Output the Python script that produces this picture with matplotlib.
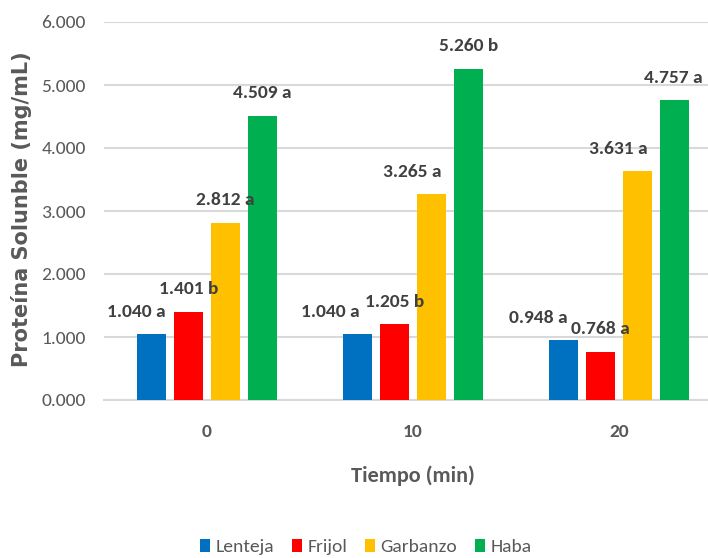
import matplotlib
matplotlib.use("Agg")
import matplotlib.pyplot as plt
import numpy as np

# ---- data ----
categories = ["0", "10", "20"]
series_names = ["Lenteja", "Frijol", "Garbanzo", "Haba"]
lenteja = [1.040, 1.040, 0.948]
frijol = [1.401, 1.205, 0.768]
garbanzo = [2.812, 3.265, 3.631]
haba = [4.509, 5.260, 4.757]
lenteja_sig = ["a", "a", "a"]
frijol_sig = ["b", "b", "a"]
garbanzo_sig = ["a", "a", "a"]
haba_sig = ["a", "b", "a"]
y_ticks = [0, 1, 2, 3, 4, 5, 6]
y_label = "Proteína Solunble (mg/mL)"
x_label = "Tiempo (min)"

# ---- style ----
colors = ["#0070C0", "#FF0000", "#FFC000", "#00B050"]
label_dx_px = [[-15, 0, 0, 0], [-27, 0, -19, 0], [-25, 0, -19, -1]]
GRAY = "#595959"
DARK = "#404040"
FONT = ["Carlito", "DejaVu Sans"]

plt.rcParams["font.family"] = FONT

W, H = 708, 558
fig = plt.figure(figsize=(W / 100, H / 100), dpi=100)
ax = fig.add_axes([104 / W, 1 - 400 / H, 618 / W, 378 / H])

series = [lenteja, frijol, garbanzo, haba]
sigs = [lenteja_sig, frijol_sig, garbanzo_sig, haba_sig]
x = np.arange(len(categories))
step = 0.18
width = 0.14
offsets = (np.arange(len(series)) - 1.5) * step

for i, (vals, sg) in enumerate(zip(series, sigs)):
    bars = ax.bar(x + offsets[i], vals, width, color=colors[i], label=series_names[i], zorder=3)
    for j, (b, v, s) in enumerate(zip(bars, vals, sg)):
        ax.annotate(f"{v:.3f} {s}",
                    xy=(b.get_x() + b.get_width() / 2, v),
                    xytext=(label_dx_px[j][i] * 0.72, 12.6),
                    textcoords="offset points", ha="center", va="baseline",
                    fontsize=14, fontweight="bold", color=DARK, zorder=6,
                    annotation_clip=False)

ax.set_ylim(0, 6)
ax.set_xlim(-0.5, len(categories) - 0.5)
ax.set_yticks(y_ticks)
ax.set_yticklabels([f"{t:.3f}" for t in y_ticks])
ax.set_xticks(x)
ax.set_xticklabels(categories)
ax.grid(axis="y", color="#D9D9D9", linewidth=1.5, zorder=0)
ax.set_axisbelow(True)
for sp in ["top", "right", "left"]:
    ax.spines[sp].set_visible(False)
ax.spines["bottom"].set_color("#D9D9D9")
ax.spines["bottom"].set_linewidth(1.5)
ax.tick_params(axis="y", length=0, pad=13, labelsize=14, labelcolor=GRAY)
ax.tick_params(axis="x", length=0, pad=17, labelsize=14, labelcolor=GRAY)
for t in ax.get_xticklabels():
    t.set_fontweight("bold")

fig.text(22 / W, 1 - 209 / H, y_label, rotation=90, ha="center", va="center",
         fontsize=15, fontweight="bold", color=GRAY, family=["DejaVu Sans"])
fig.text(413 / W, 1 - 476 / H, x_label, ha="center", va="center",
         fontsize=16, fontweight="bold", color=GRAY)

fig.legend(loc="center", bbox_to_anchor=(366 / W, 1 - 547 / H), ncol=4, frameon=False,
           handlelength=0.52, handleheight=0.62, handletextpad=0.26, columnspacing=0.93,
           prop={"size": 14}, labelcolor=GRAY)

fig.savefig("out.png", dpi=100)
